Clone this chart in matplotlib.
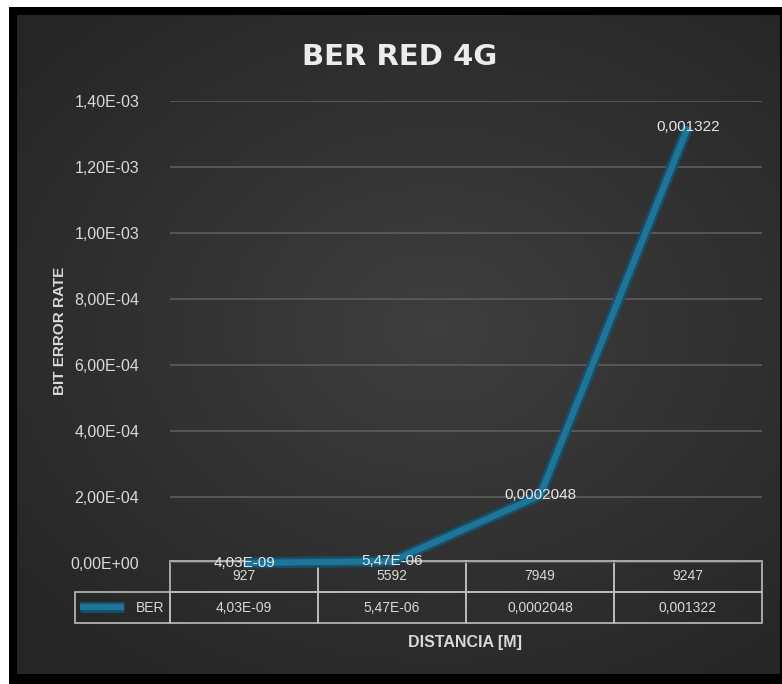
import numpy as np
import matplotlib
matplotlib.use("Agg")
import matplotlib.pyplot as plt
from matplotlib.lines import Line2D
from matplotlib.patches import Rectangle
from matplotlib.table import Table

# Data
distances = ["927", "5592", "7949", "9247"]
ber = [4.03e-09, 5.47e-06, 2.048e-04, 1.322e-03]
y_ticks = [0, 2e-4, 4e-4, 6e-4, 8e-4, 1e-3, 1.2e-3, 1.4e-3]
series_name = "BER"
title = "BER RED 4G"
x_title = "DISTANCIA [M]"
y_title = "BIT ERROR RATE"


def fmt_value(v):
    if v < 1e-4:
        return f"{v:.2E}".replace(".", ",")
    return str(v).replace(".", ",")


def fmt_tick(v):
    return f"{v:.2E}".replace(".", ",")


W, H = 782, 684
fig = plt.figure(figsize=(W / 100, H / 100), dpi=100, facecolor="white")

# Outer black frame
fig.patches.append(Rectangle((9 / W, 0), (W - 9) / W, 677 / H,
                             transform=fig.transFigure, facecolor="black",
                             edgecolor="none", zorder=-10))

# Dark radial-gradient chart area
bg = fig.add_axes([17 / W, 10 / H, (780 - 17) / W, (669 - 10) / H], zorder=-5)
gx, gy = np.meshgrid(np.linspace(-1, 1, 400), np.linspace(-1, 1, 350))
r = np.sqrt(((gx - 0.1) / 1.1) ** 2 + ((gy + 0.05) / 1.0) ** 2)
shade = np.clip(0.245 - 0.075 * r, 0.15, 0.25)
bg.imshow(np.dstack([shade] * 3), aspect="auto", extent=[0, 1, 0, 1],
          interpolation="bilinear")
bg.set_axis_off()

# Plot area
ax = fig.add_axes([170 / W, 121 / H, 592 / W, 462 / H])
ax.set_facecolor("none")
for s in ax.spines.values():
    s.set_visible(False)

x = np.arange(len(distances))
ax.set_xlim(-0.5, len(distances) - 0.5)
ax.set_ylim(0, 1.4e-3)
ax.set_yticks(y_ticks)
ax.set_yticklabels([fmt_tick(v) for v in y_ticks])
ax.tick_params(axis="y", length=0, pad=22, labelsize=11.5, labelcolor="#d9d9d9")
ax.tick_params(axis="x", length=0, labelbottom=False)
for lab in ax.get_yticklabels():
    lab.set_fontfamily("Liberation Sans")
ax.yaxis.grid(True, color="#575757", linewidth=1.4)
ax.set_axisbelow(True)

LINE_EDGE, LINE_CORE = "#174f68", "#1f7598"

# Series line: dark edge with lighter core
ax.plot(x, ber, color=LINE_EDGE, linewidth=8, solid_capstyle="butt", zorder=3,
        clip_on=False)
ax.plot(x, ber, color=LINE_CORE, linewidth=4.5, solid_capstyle="butt", zorder=4,
        clip_on=False)

# Data labels centered on the points
for xi, v in zip(x, ber):
    ax.text(xi, v, fmt_value(v), ha="center", va="center", fontsize=11,
            color="#e6e6e6", family="Liberation Sans", zorder=6)

# Data table below the plot (header row without a corner cell);
# the bbox covers the value grid, the row label sits to its left
tbl = Table(ax, bbox=[0, -60 / 462, 1, 62 / 462])
tbl.auto_set_font_size(False)
tbl.set_fontsize(11)
col_w = 148 / 592
row_h = 31 / 462
for j, d in enumerate(distances):
    tbl.add_cell(0, j, width=col_w, height=row_h, text=d, loc="center")
for j, v in enumerate(ber):
    tbl.add_cell(1, j, width=col_w, height=row_h, text=fmt_value(v),
                 loc="center")
tbl.add_cell(1, -1, width=95 / 592, height=row_h, text=series_name, loc="right")
for (row, col), cell in tbl.get_celld().items():
    cell.set_facecolor("none")
    cell.set_edgecolor("#bdbdbd")
    cell.set_linewidth(1.2)
    cell.get_text().set_color("#d9d9d9")
    cell.get_text().set_fontfamily("Liberation Sans")
    if col == -1:
        cell.PAD = 0.06
ax.add_table(tbl)

# Legend key inside the row label cell
for lw, c, z in [(8, LINE_EDGE, 5), (4.5, LINE_CORE, 6)]:
    ax.add_line(Line2D([-90 / 592, -46 / 592], [-44 / 462, -44 / 462],
                       transform=ax.transAxes, color=c, linewidth=lw,
                       solid_capstyle="butt", clip_on=False, zorder=z))

# Titles
fig.text(400 / W, 1 - 57 / H, title, ha="center", va="center", fontsize=21,
         fontweight="bold", color="#ececec", family="DejaVu Sans")
fig.text(465 / W, 1 - 643 / H, x_title, ha="center", va="center", fontsize=11.5,
         fontweight="bold", color="#d9d9d9", family="Liberation Sans")
fig.text(60 / W, 1 - 331 / H, y_title, ha="center", va="center", fontsize=11,
         fontweight="bold", color="#d9d9d9", rotation=90,
         family="Liberation Sans")

fig.savefig("out.png", dpi=100, facecolor="white")
